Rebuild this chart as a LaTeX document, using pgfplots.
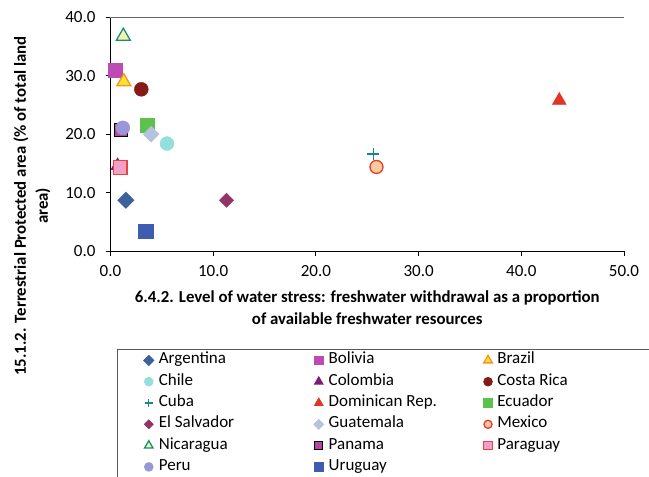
\documentclass[border=0pt]{standalone}
\usepackage{fontspec}
\setmainfont{Carlito}
\usepackage{pgfplots}
\pgfplotsset{compat=1.18}
\definecolor{cArg}{HTML}{3D6198}
\definecolor{cBol}{HTML}{BE4BB4}
\definecolor{cBraF}{HTML}{F4E33A}
\definecolor{cBraD}{HTML}{F7941D}
\definecolor{cChi}{HTML}{93DFD9}
\definecolor{cCol}{HTML}{7A1C7A}
\definecolor{cCR}{HTML}{861A16}
\definecolor{cCub}{HTML}{17898A}
\definecolor{cDom}{HTML}{E13526}
\definecolor{cEcu}{HTML}{5CC24B}
\definecolor{cSal}{HTML}{943465}
\definecolor{cGua}{HTML}{B6C3DF}
\definecolor{cMexF}{HTML}{FBCB9C}
\definecolor{cMexD}{HTML}{E33B2E}
\definecolor{cNicF}{HTML}{F6F1A8}
\definecolor{cNicD}{HTML}{1A8C84}
\definecolor{cPanF}{HTML}{B6479E}
\definecolor{cParF}{HTML}{F3A0C9}
\definecolor{cParD}{HTML}{E8433D}
\definecolor{cPer}{HTML}{9A96D8}
\definecolor{cUru}{HTML}{3E5DB0}
\newcommand{\cA}[1]{\makebox[155bp][l]{#1}}
\newcommand{\cC}[1]{\makebox[131bp][l]{#1}}
\begin{document}
\begin{tikzpicture}[font=\fontsize{17bp}{22bp}\selectfont]
\path[use as bounding box] (-110.5bp,-226bp) rectangle (538.5bp,251bp);
\begin{axis}[
  at={(0,0)}, anchor=south west,
  scale only axis, width=513.5bp, height=233.5bp,
  xmin=0, xmax=50, ymin=0, ymax=40,
  xtick={0,10,...,50}, ytick={0,10,...,40},
  axis x line*=bottom, axis y line*=left,
  axis line style={-, black, line width=0.8bp},
  tick align=outside, major tick length=4.5bp,
  tick style={black, line width=0.8bp},
  xticklabel style={yshift=-6.5bp},
  yticklabel style={xshift=-7bp},
  /pgf/number format/.cd, fixed, fixed zerofill, precision=1, assume math mode=true,
  /pgfplots/.cd,
  xlabel={6.4.2. Level of water stress: freshwater withdrawal as a proportion\\of available freshwater resources},
  xlabel style={font=\fontsize{16.8bp}{22bp}\selectfont\bfseries, align=center, at={(axis description cs:0.5,0)}, anchor=center, yshift=-57bp},
  ylabel={15.1.2. Terrestrial Protected area (\% of total land\\area)},
  ylabel style={font=\fontsize{16.8bp}{22bp}\selectfont\bfseries, align=center, at={(axis description cs:-0.1529,0.193)}, anchor=center, rotate=0},
  legend columns=3,
  legend image code/.code={\draw[mark repeat=2, mark phase=2] plot coordinates {(0bp,0bp)(5bp,0bp)(10bp,0bp)};},
  legend image post style={/tikz/every mark/.append style={scale=0.62}},
  legend style={at={(axis description cs:0,0)}, anchor=north west, xshift=6.8bp, yshift=-98bp,
    draw=black!65, line width=0.8bp, inner xsep=26bp, inner ysep=3.5bp, row sep=6.3bp,
    nodes={inner sep=0pt, text height=11bp, text depth=4bp, anchor=center},
    /tikz/every odd column/.style={column sep=5bp},
    /tikz/every even column/.style={column sep=0bp}},
  legend cell align=left,
]
\draw[black!60, line width=0.8bp] (rel axis cs:0,1) -- (rel axis cs:1,1) -- (rel axis cs:1,0);
\addplot[only marks, mark=square*, mark size=5.8bp, mark options={rotate=45, draw=cArg, fill=cArg}] coordinates {(1.5,8.7)};
\addlegendentry{\cA{Argentina}}
\addplot[only marks, mark=square*, mark size=7bp, mark options={draw=cBol, fill=cBol}] coordinates {(0.44,31.0)};
\addlegendentry{\cA{Bolivia}}
\addplot[only marks, mark=triangle*, mark size=8bp, mark options={draw=cBraD, fill=cBraF, line width=1.3bp}] coordinates {(1.3,29.0)};
\addlegendentry{\cC{Brazil}}
\addplot[only marks, mark=*, mark size=7bp, mark options={draw=cChi, fill=cChi}] coordinates {(5.5,18.4)};
\addlegendentry{\cA{Chile}}
\addplot[only marks, mark=triangle*, mark size=8bp, mark options={draw=cCol, fill=cCol}] coordinates {(0.7,14.6)};
\addlegendentry{\cA{Colombia}}
\addplot[only marks, mark=*, mark size=7bp, mark options={draw=cCR, fill=cCR}] coordinates {(3.0,27.7)};
\addlegendentry{\cC{Costa Rica}}
\addplot[only marks, mark=+, mark size=6bp, mark options={draw=cCub, line width=1.3bp}] coordinates {(25.6,16.6)};
\addlegendentry{\cA{Cuba}}
\addplot[only marks, mark=triangle*, mark size=8bp, mark options={draw=cDom, fill=cDom}] coordinates {(43.7,25.8)};
\addlegendentry{\cA{Dominican Rep.}}
\addplot[only marks, mark=square*, mark size=7bp, mark options={draw=cEcu, fill=cEcu}] coordinates {(3.6,21.6)};
\addlegendentry{\cC{Ecuador}}
\addplot[only marks, mark=square*, mark size=5bp, mark options={rotate=45, draw=cSal, fill=cSal}] coordinates {(11.3,8.7)};
\addlegendentry{\cA{El Salvador}}
\addplot[only marks, mark=square*, mark size=5.6bp, mark options={rotate=45, draw=cGua, fill=cGua}] coordinates {(3.96,20.0)};
\addlegendentry{\cA{Guatemala}}
\addplot[only marks, mark=*, mark size=6.5bp, mark options={draw=cMexD, fill=cMexF, line width=1.3bp}] coordinates {(25.9,14.4)};
\addlegendentry{\cC{Mexico}}
\addplot[only marks, mark=triangle*, mark size=8bp, mark options={draw=cNicD, fill=cNicF, line width=1.3bp}] coordinates {(1.25,36.8)};
\addlegendentry{\cA{Nicaragua}}
\addplot[only marks, mark=square*, mark size=6.5bp, mark options={draw=black, fill=cPanF, line width=1.3bp}] coordinates {(1.03,20.7)};
\addlegendentry{\cA{Panama}}
\addplot[only marks, mark=square*, mark size=6.8bp, mark options={draw=cParD, fill=cParF, line width=1.3bp}] coordinates {(0.93,14.3)};
\addlegendentry{\cC{Paraguay}}
\addplot[only marks, mark=*, mark size=7bp, mark options={draw=cPer, fill=cPer}] coordinates {(1.2,21.1)};
\addlegendentry{\cA{Peru}}
\addplot[only marks, mark=square*, mark size=7.3bp, mark options={draw=cUru, fill=cUru}] coordinates {(3.45,3.4)};
\addlegendentry{\cA{Uruguay}}
\end{axis}
\end{tikzpicture}
\end{document}
